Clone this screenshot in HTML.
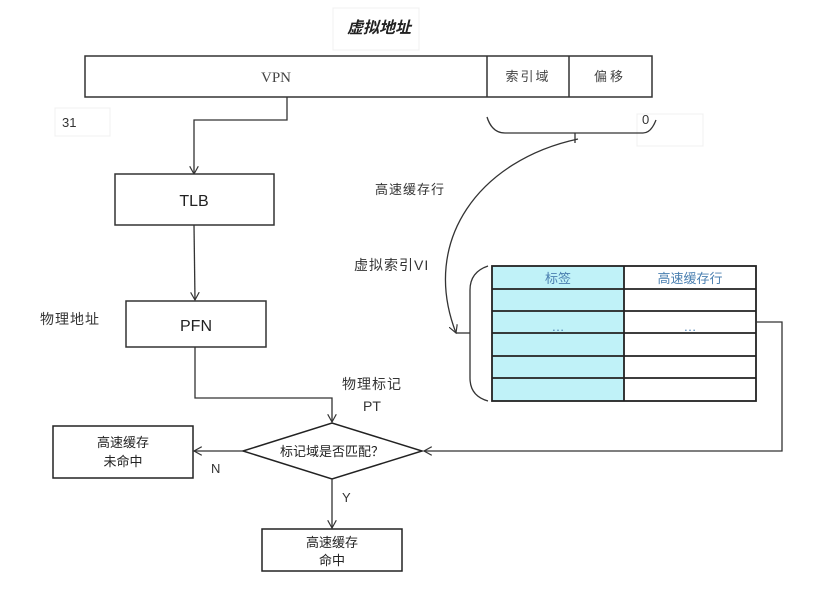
<!DOCTYPE html>
<html><head><meta charset="utf-8"><style>
body{margin:0;background:#fff;}
svg{display:block;font-family:"Liberation Sans","Noto Sans CJK SC",sans-serif;}
</style></head><body>
<svg width="822" height="598" viewBox="0 0 822 598" xmlns="http://www.w3.org/2000/svg">
<defs><marker id="a" viewBox="0 0 10 10" refX="9" refY="5" markerWidth="9" markerHeight="9" orient="auto" markerUnits="userSpaceOnUse"><path d="M0,0 L9,5 L0,10" fill="none" stroke="#333" stroke-width="1.3"/></marker></defs>
<rect x="0" y="0" width="822" height="598" fill="#fff"/>
<rect x="333" y="8" width="86" height="42" fill="#fff" stroke="#f0f0f0"/>
<text x="347" y="33" font-size="16" font-weight="bold" font-style="italic" fill="#222">虚拟地址</text>
<g stroke="#333" stroke-width="1.5" fill="none">
<rect x="85" y="56" width="567" height="41"/>
<line x1="487" y1="56" x2="487" y2="97"/>
<line x1="569" y1="56" x2="569" y2="97"/>
</g>
<text x="276" y="82" font-size="15" fill="#444" text-anchor="middle" font-family="Liberation Serif, serif">VPN</text>
<text x="528" y="81" font-size="13" fill="#444" text-anchor="middle" letter-spacing="2">索引域</text>
<text x="610" y="81" font-size="13" fill="#444" text-anchor="middle" letter-spacing="3">偏移</text>
<rect x="55" y="108" width="55" height="28" fill="#fff" stroke="#f0f0f0"/>
<text x="62" y="127" font-size="13" fill="#333">31</text>
<rect x="637" y="114" width="66" height="32" fill="#fff" stroke="#f0f0f0"/>
<text x="642" y="124" font-size="13" fill="#333">0</text>
<path d="M487,117 Q492,133 505,133 L643,133 Q651,133 656,120" fill="none" stroke="#333" stroke-width="1.3"/>
<line x1="575" y1="133" x2="575" y2="143" stroke="#333" stroke-width="1.3"/>
<path d="M578,139 C480,160 420,240 456,333" fill="none" stroke="#333" stroke-width="1.3" marker-end="url(#a)"/>
<text x="375" y="194" font-size="13" fill="#333" letter-spacing="1">高速缓存行</text>
<text x="354" y="270" font-size="14" fill="#333" letter-spacing="1">虚拟索引VI</text>
<path d="M488,266 Q470,272 470,290 L470,378 Q470,396 488,401" fill="none" stroke="#333" stroke-width="1.3"/>
<line x1="456" y1="333" x2="470" y2="333" stroke="#333" stroke-width="1.3"/>
<rect x="492" y="266" width="132" height="135" fill="#c0f2f8"/>
<g stroke="#222" stroke-width="1.8" fill="none">
<rect x="492" y="266" width="264" height="135"/>
<line x1="624" y1="266" x2="624" y2="401"/>
<line x1="492" y1="289" x2="756" y2="289"/>
<line x1="492" y1="311" x2="756" y2="311"/>
<line x1="492" y1="333" x2="756" y2="333"/>
<line x1="492" y1="356" x2="756" y2="356"/>
<line x1="492" y1="378" x2="756" y2="378"/>
</g>
<text x="558" y="283" font-size="13" fill="#4a7fb0" text-anchor="middle">标签</text>
<text x="690" y="283" font-size="13" fill="#4a7fb0" text-anchor="middle">高速缓存行</text>
<text x="558" y="331" font-size="13" fill="#4a7fb0" text-anchor="middle">…</text>
<text x="690" y="331" font-size="13" fill="#4a7fb0" text-anchor="middle">…</text>
<polyline points="756,322 782,322 782,451 424,451" fill="none" stroke="#333" stroke-width="1.3" marker-end="url(#a)"/>
<polyline points="287,97 287,120 194,120 194,174" fill="none" stroke="#333" stroke-width="1.3" marker-end="url(#a)"/>
<rect x="115" y="174" width="159" height="51" fill="#fff" stroke="#333" stroke-width="1.5"/>
<text x="194" y="206" font-size="16" fill="#222" text-anchor="middle">TLB</text>
<line x1="194" y1="225" x2="195" y2="300" stroke="#333" stroke-width="1.3" marker-end="url(#a)"/>
<rect x="126" y="301" width="140" height="46" fill="#fff" stroke="#333" stroke-width="1.5"/>
<text x="196" y="331" font-size="16" fill="#222" text-anchor="middle">PFN</text>
<text x="40" y="324" font-size="14" fill="#333" letter-spacing="1">物理地址</text>
<polyline points="195,347 195,398 332,398 332,422" fill="none" stroke="#333" stroke-width="1.3" marker-end="url(#a)"/>
<text x="372" y="389" font-size="14" fill="#333" text-anchor="middle" letter-spacing="1">物理标记</text>
<text x="372" y="411" font-size="14" fill="#333" text-anchor="middle">PT</text>
<polygon points="243,451 332,423 422,451 332,479" fill="#fff" stroke="#222" stroke-width="1.5"/>
<text x="332" y="456" font-size="13" fill="#222" text-anchor="middle">标记域是否匹配？</text>
<line x1="243" y1="451" x2="194" y2="451" stroke="#333" stroke-width="1.3" marker-end="url(#a)"/>
<text x="211" y="473" font-size="13" fill="#333">N</text>
<rect x="53" y="426" width="140" height="52" fill="#fff" stroke="#222" stroke-width="1.5"/>
<text x="123" y="447" font-size="13" fill="#222" text-anchor="middle">高速缓存</text>
<text x="123" y="466" font-size="13" fill="#222" text-anchor="middle">未命中</text>
<line x1="332" y1="479" x2="332" y2="528" stroke="#333" stroke-width="1.3" marker-end="url(#a)"/>
<text x="342" y="502" font-size="13" fill="#333">Y</text>
<rect x="262" y="529" width="140" height="42" fill="#fff" stroke="#222" stroke-width="1.5"/>
<text x="332" y="547" font-size="13" fill="#222" text-anchor="middle">高速缓存</text>
<text x="332" y="565" font-size="13" fill="#222" text-anchor="middle">命中</text>
</svg>
</body></html>
